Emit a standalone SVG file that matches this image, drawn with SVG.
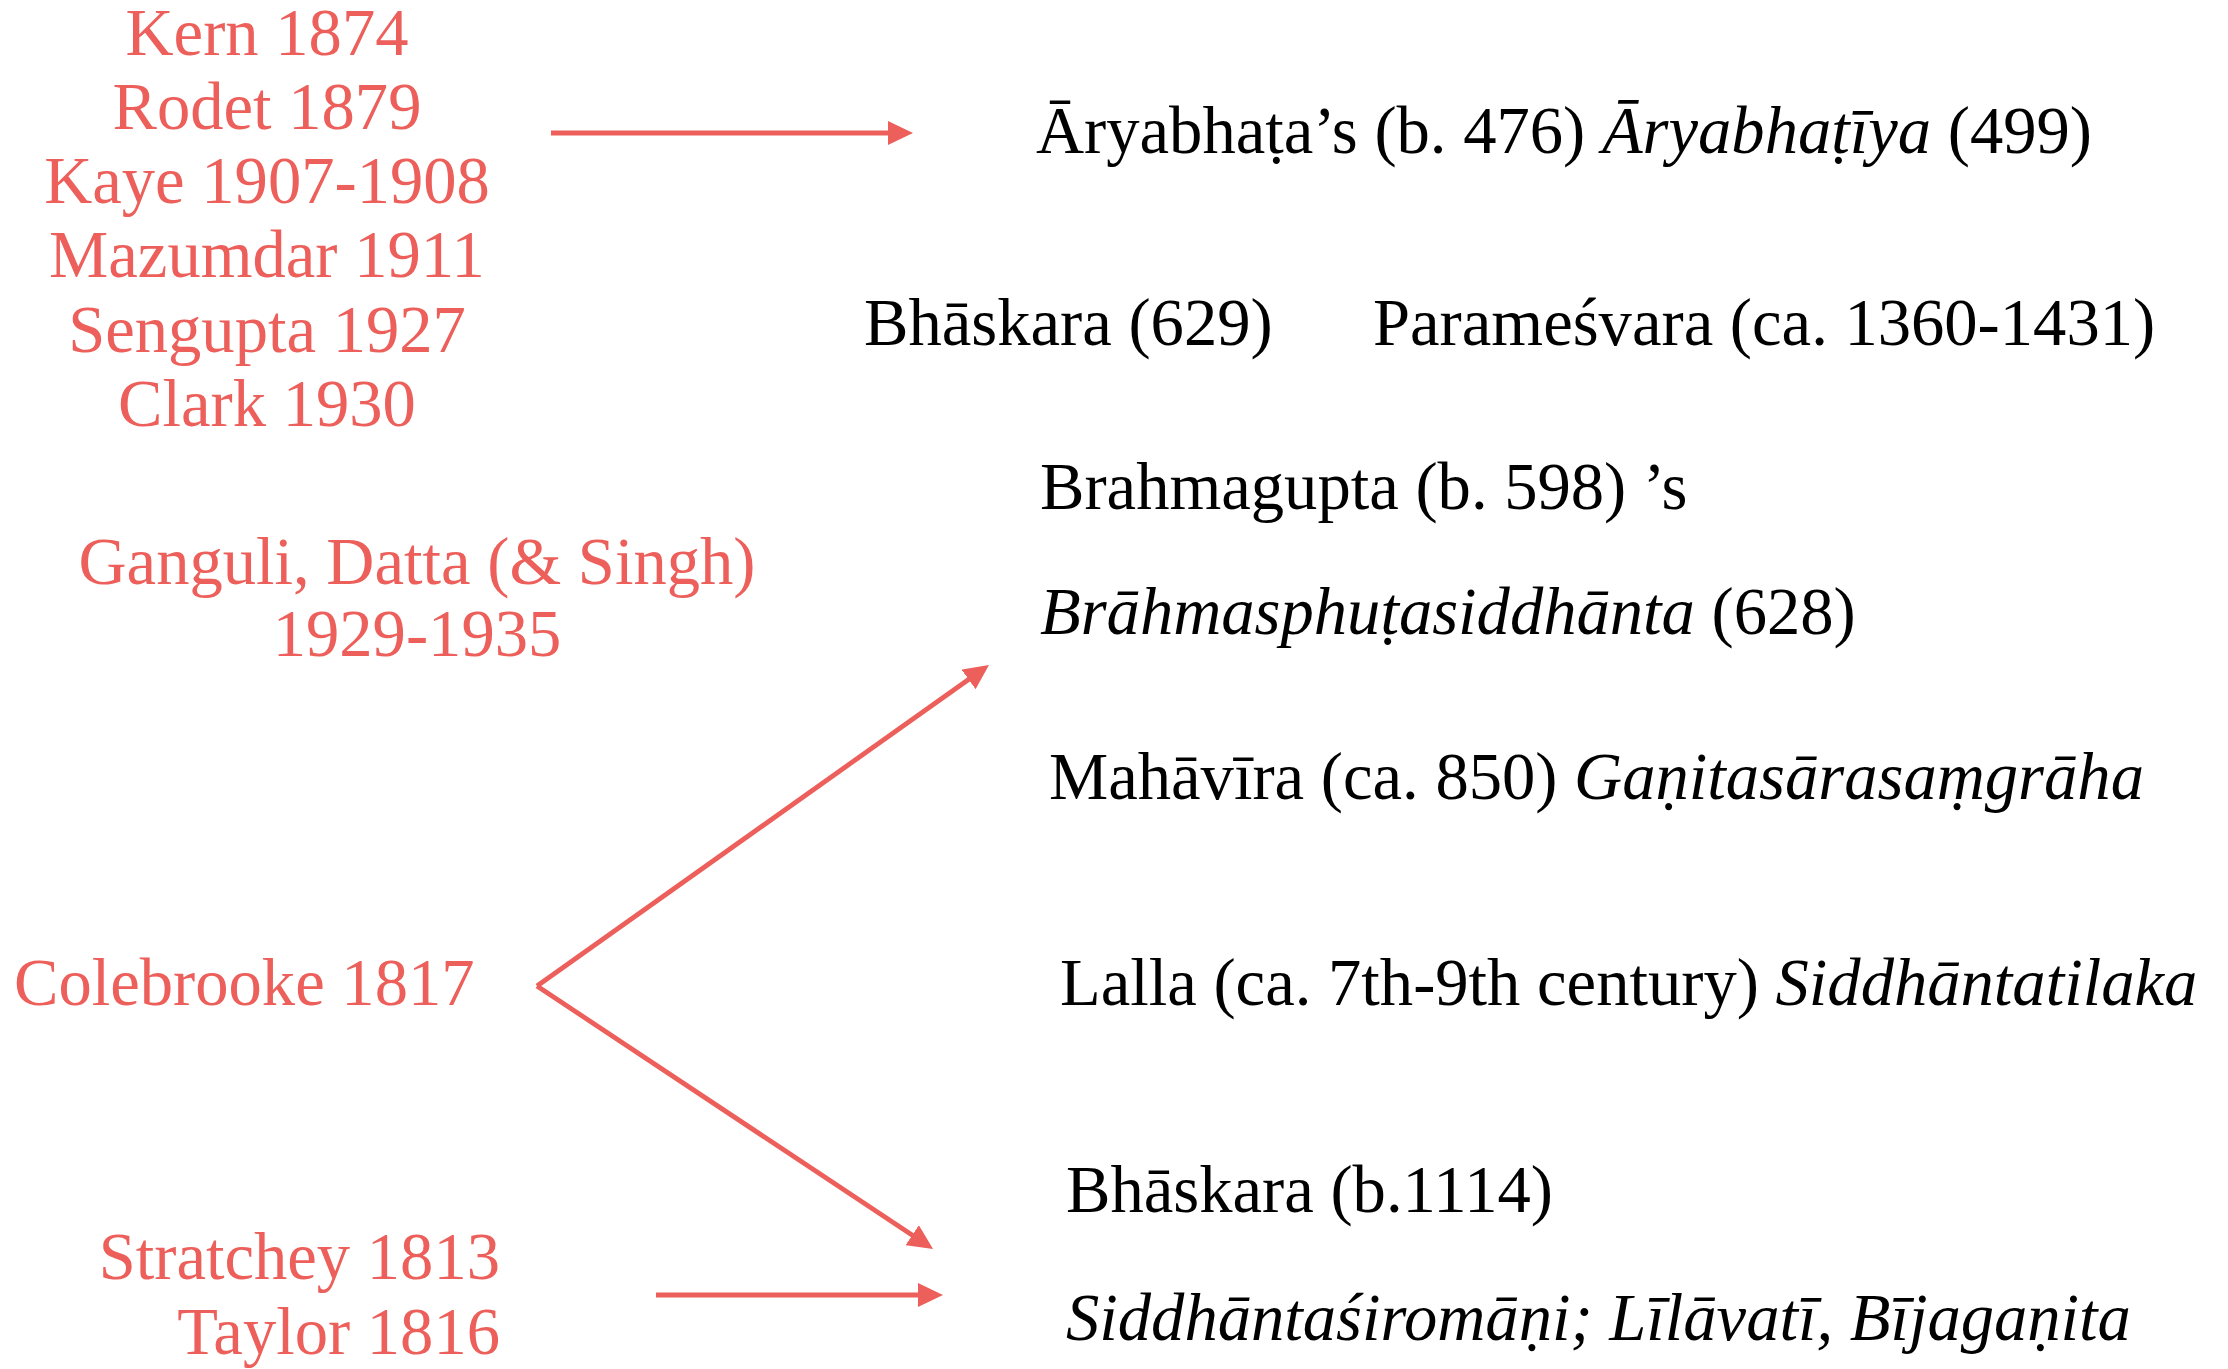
<svg xmlns="http://www.w3.org/2000/svg" width="2228" height="1369" viewBox="0 0 2228 1369">
<style>
text{font-family:"Liberation Serif","DejaVu Serif",serif;font-size:66.6px}
.r{fill:#EC5F5A;text-anchor:middle}
.k{fill:#000}
.i{font-style:italic}
.c{stroke:#EC5F5A;stroke-width:4.8;fill:none}
</style>
<defs>
<marker id="ah" viewBox="0 0 25 24" refX="12" refY="12" markerWidth="25" markerHeight="24" markerUnits="userSpaceOnUse" orient="auto">
<path d="M0,0 L25,12 L0,24 z" fill="#EC5F5A"/>
</marker>
</defs>
<rect width="2228" height="1369" fill="#fff"/>
<g id="early-group">
<text class="r" x="267" y="55">Kern 1874</text>
<text class="r" x="267" y="129">Rodet 1879</text>
<text class="r" x="267" y="203">Kaye 1907-1908</text>
<text class="r" x="267" y="277">Mazumdar 1911</text>
<text class="r" x="267" y="352">Sengupta 1927</text>
<text class="r" x="267" y="426">Clark 1930</text>
</g>
<g id="ganguli">
<text class="r" x="417" y="584">Ganguli, Datta (&amp; Singh)</text>
<text class="r" x="417" y="656">1929-1935</text>
</g>
<g id="colebrooke">
<text class="r" x="14" y="1005" style="text-anchor:start">Colebrooke 1817</text>
</g>
<g id="stratchey-taylor">
<text class="r" x="500" y="1279" style="text-anchor:end">Stratchey 1813</text>
<text class="r" x="500" y="1354" style="text-anchor:end">Taylor 1816</text>
</g>
<g id="aryabhata">
<text class="k" x="1036" y="153">Āryabhaṭa’s (b. 476) <tspan class="i">Āryabhaṭīya</tspan> (499)</text>
</g>
<g id="bhaskara1">
<text class="k" x="864" y="345">Bhāskara (629)</text>
</g>
<g id="paramesvara">
<text class="k" x="1373" y="345">Parameśvara (ca. 1360-1431)</text>
</g>
<g id="brahmagupta">
<text class="k" x="1040" y="509">Brahmagupta (b. 598) ’s</text>
<text class="k" x="1040" y="634"><tspan class="i">Brāhmasphuṭasiddhānta</tspan> (628)</text>
</g>
<g id="mahavira">
<text class="k" x="1049" y="799">Mahāvīra (ca. 850) <tspan class="i">Gaṇitasārasaṃgrāha</tspan></text>
</g>
<g id="lalla">
<text class="k" x="1060" y="1005">Lalla (ca. 7th-9th century) <tspan class="i">Siddhāntatilaka</tspan></text>
</g>
<g id="bhaskara2">
<text class="k" x="1066" y="1212">Bhāskara (b.1114)</text>
<text class="k i" x="1066" y="1340">Siddhāntaśiromāṇi; Līlāvatī, Bījagaṇita</text>
</g>
<g id="connectors">
<line class="c" x1="551" y1="133" x2="900" y2="133" marker-end="url(#ah)"/>
<line class="c" x1="537" y1="986" x2="978.4" y2="672.5" marker-end="url(#ah)"/>
<line class="c" x1="537" y1="986" x2="922.2" y2="1241.8" marker-end="url(#ah)"/>
<line class="c" x1="656" y1="1295" x2="930" y2="1295" marker-end="url(#ah)"/>
</g>
</svg>
